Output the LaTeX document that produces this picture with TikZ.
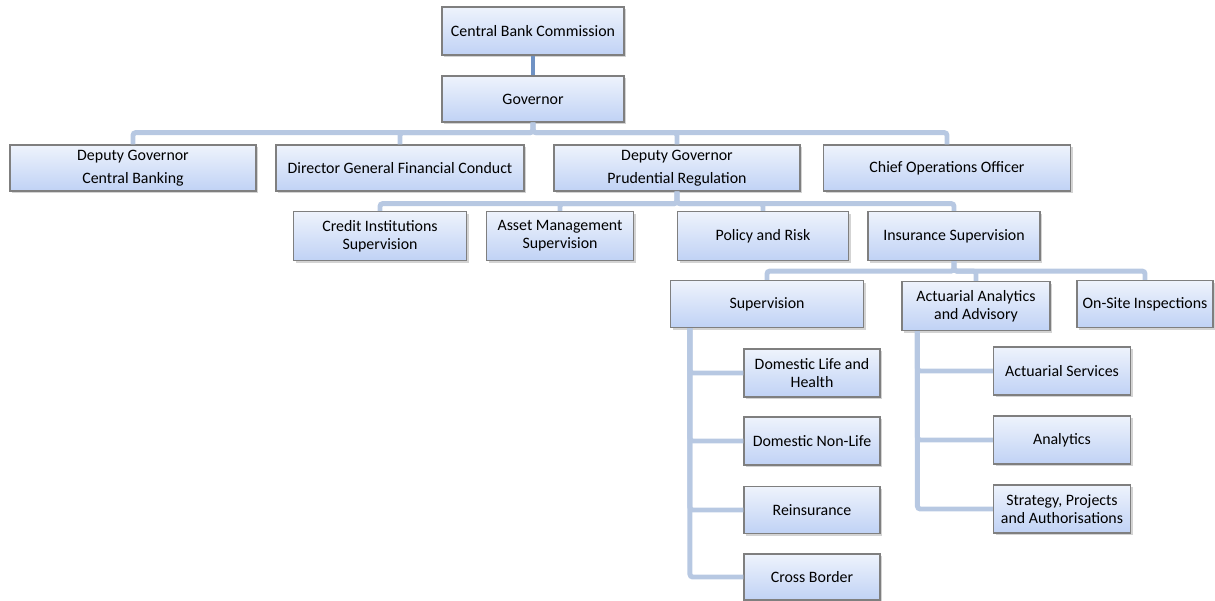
\documentclass[tikz,border=0pt]{standalone}
\usepackage{fontspec}
\setmainfont{Carlito}
\usetikzlibrary{shadows}
\definecolor{boxtop}{HTML}{EEF3FC}
\definecolor{boxbot}{HTML}{C0D2F5}
\definecolor{boxline}{HTML}{7F7F7F}
\definecolor{linklight}{HTML}{B7C8E2}
\definecolor{linkdark}{HTML}{6F92C4}

\begin{document}
\begin{tikzpicture}[x=0.025cm, y=-0.025cm,
        unit/.style={draw=boxline, line width=0.8pt, top color=boxtop, bottom color=boxbot,
            align=center, inner sep=0pt, font=\fontsize{11.3}{13}\selectfont,
            drop shadow={shadow xshift=1.6pt, shadow yshift=-1.6pt, opacity=0.35}},
        boxsize/.style 2 args={minimum width={#1*0.025cm}, minimum height={#2*0.025cm}},
        link/.style={draw=linklight, line width=3.5pt, rounded corners=2pt}]
        \useasboundingbox (0,0) rectangle (1215,600);

        % top of the chart
        \node[unit, boxsize={182}{48}] (commission) at (533,31) {Central Bank Commission};
        \node[unit, boxsize={182}{46}] (governor) at (533,99) {Governor};

        % first level
        \node[unit, boxsize={246}{46}] (dgcentral) at (133,168) {Deputy Governor\\[3.5pt]Central Banking};
        \node[unit, boxsize={248}{46}] (dgconduct) at (400,168) {Director General Financial Conduct};
        \node[unit, boxsize={246}{46}] (dgprudent) at (677,168) {Deputy Governor\\[3.5pt]Prudential Regulation};
        \node[unit, boxsize={247}{46}] (coo) at (947,168) {Chief Operations Officer};

        % under prudential regulation
        \node[unit, boxsize={173}{49}] (creditsup) at (380,236) {Credit Institutions\\Supervision};
        \node[unit, boxsize={147}{49}] (assetsup) at (560,236) {Asset Management\\Supervision};
        \node[unit, boxsize={171}{49}] (policy) at (763,236) {Policy and Risk};
        \node[unit, boxsize={172}{49}] (insurance) at (954,236) {Insurance Supervision};

        % under insurance supervision
        \node[unit, boxsize={193}{47}] (supervision) at (767,304) {Supervision};
        \node[unit, boxsize={148}{49}] (actuarial) at (976,306) {Actuarial Analytics\\and Advisory};
        \node[unit, boxsize={136}{47}] (onsite) at (1145,304) {On-Site Inspections};

        \node[unit, boxsize={136}{48}] (domlife) at (812,373) {Domestic Life and\\Health};
        \node[unit, boxsize={136}{48}] (domnonlife) at (812,441) {Domestic Non-Life};
        \node[unit, boxsize={136}{47}] (reins) at (812,510) {Reinsurance};
        \node[unit, boxsize={136}{46}] (crossborder) at (812,577) {Cross Border};

        \node[unit, boxsize={137}{48}] (actservices) at (1062,371) {Actuarial Services};
        \node[unit, boxsize={137}{48}] (analytics) at (1062,440) {Analytics};
        \node[unit, boxsize={137}{48}] (strategy) at (1062,509) {Strategy, Projects\\and Authorisations};

        % connectors
        \draw[draw=linkdark, line width=3.5pt] (commission) -- (governor);

        \foreach \child in {dgcentral, dgconduct, dgprudent, coo}
            \draw[link] (governor.south) -- ++(0,10) -| (\child.north);

        \foreach \child in {creditsup, assetsup, policy, insurance}
            \draw[link] (dgprudent.south) -- ++(0,12) -| (\child.north);

        \foreach \child in {supervision, actuarial, onsite}
            \draw[link] (insurance.south) -- ++(0,10) -| (\child.north);

        \foreach \child in {domlife, domnonlife, reins, crossborder}
            \draw[link] ([xshift=0.5cm]supervision.south west) |- (\child.west);

        \foreach \child in {actservices, analytics, strategy}
            \draw[link] ([xshift=0.4cm]actuarial.south west) |- (\child.west);
    \end{tikzpicture}
\end{document}
